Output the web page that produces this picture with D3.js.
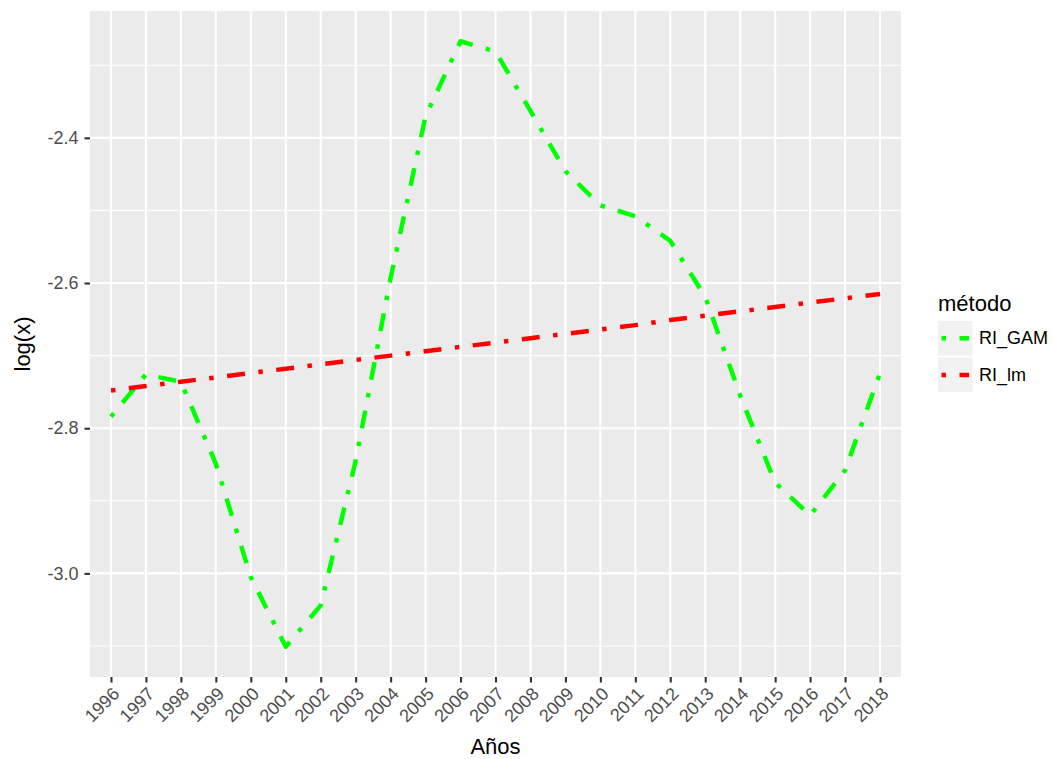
<!DOCTYPE html>
<html>
<head>
<meta charset="utf-8">
<script src="https://cdnjs.cloudflare.com/ajax/libs/d3/7.8.5/d3.min.js"></script>
<style>
  body { margin: 0; background: #fff; }
  text { font-family: "Liberation Sans", Arial, sans-serif; }
</style>
</head>
<body>
<div id="chart"></div>
<script>
// data
var years = ["1996","1997","1998","1999","2000","2001","2002","2003","2004","2005","2006","2007",
             "2008","2009","2010","2011","2012","2013","2014","2015","2016","2017","2018"];
var ri_gam = [-2.784, -2.726, -2.736, -2.849, -3.005, -3.101, -3.044, -2.845, -2.593, -2.370, -2.267, -2.281,
              -2.363, -2.446, -2.493, -2.508, -2.542, -2.619, -2.755, -2.875, -2.920, -2.858, -2.724];
var ri_lm = [-2.748, -2.742, -2.736, -2.730, -2.724, -2.718, -2.712, -2.706, -2.700, -2.694, -2.688, -2.682,
             -2.676, -2.670, -2.664, -2.658, -2.651, -2.645, -2.639, -2.633, -2.627, -2.621, -2.615];
var yTicks = [-3.0, -2.8, -2.6, -2.4];
var yMinor = [-3.1, -2.9, -2.7, -2.5, -2.3];
var seriesNames = ["RI_GAM", "RI_lm"];
var seriesColors = ["#00ff00", "#ff0000"];

var W = 1054, H = 759;
var margin = {top: 11, right: 153, bottom: 82, left: 90},
    width = W - margin.left - margin.right,
    height = H - margin.top - margin.bottom;

var svg = d3.select("#chart").append("svg")
    .attr("width", W)
    .attr("height", H);

var g = svg.append("g")
    .attr("transform", "translate(" + margin.left + "," + margin.top + ")");

// discrete x like ggplot: 0.6 unit expansion each side
var xScale = d3.scalePoint()
    .domain(years)
    .range([0, width])
    .padding(0.6);

var allVals = ri_gam.concat(ri_lm);
var lo = d3.min(allVals), hi = d3.max(allVals), pad = (hi - lo) * 0.05;
var yScale = d3.scaleLinear()
    .domain([lo - pad, hi + pad])
    .range([height, 0]);

g.append("rect")
    .attr("width", width)
    .attr("height", height)
    .attr("fill", "#ebebeb");

// grid
g.selectAll(".minor").data(yMinor).enter().append("line")
    .attr("x1", 0).attr("x2", width)
    .attr("y1", d => yScale(d)).attr("y2", d => yScale(d))
    .attr("stroke", "#fff").attr("stroke-width", 1.1);
g.selectAll(".majorY").data(yTicks).enter().append("line")
    .attr("x1", 0).attr("x2", width)
    .attr("y1", d => yScale(d)).attr("y2", d => yScale(d))
    .attr("stroke", "#fff").attr("stroke-width", 2.1);
g.selectAll(".majorX").data(years).enter().append("line")
    .attr("y1", 0).attr("y2", height)
    .attr("x1", d => xScale(d)).attr("x2", d => xScale(d))
    .attr("stroke", "#fff").attr("stroke-width", 2.1);

// axes
var yAxis = g.append("g")
    .call(d3.axisLeft(yScale).tickValues(yTicks).tickFormat(d3.format(".1f")).tickSize(5.5).tickPadding(6));
var xAxis = g.append("g")
    .attr("transform", "translate(0," + height + ")")
    .call(d3.axisBottom(xScale).tickSize(5.5).tickPadding(4));

[yAxis, xAxis].forEach(function(a){
    a.select(".domain").remove();
    a.selectAll(".tick line").attr("stroke", "#333333").attr("stroke-width", 2.1);
    a.selectAll(".tick text")
        .attr("fill", "#4d4d4d")
        .style("font-size", "18px")
        .style("font-family", "Liberation Sans, Arial, sans-serif");
});
yAxis.selectAll(".tick text").text(d => d3.format(".1f")(d).replace("\u2212", "-"));
xAxis.selectAll(".tick text")
    .attr("text-anchor", "end")
    .attr("dy", null)
    .attr("y", 0)
    .attr("transform", "translate(9,18) rotate(-45)");

// lines
var lwd = 4.5;
var dash = [1, 3, 4, 3].map(d => d * lwd).join(",");
var line = d3.line()
    .x((d, i) => xScale(years[i]))
    .y(d => yScale(d));

[ri_gam, ri_lm].forEach(function(s, k){
    g.append("path")
        .datum(s)
        .attr("d", line)
        .attr("fill", "none")
        .attr("stroke", seriesColors[k])
        .attr("stroke-width", lwd)
        .attr("stroke-dasharray", dash)
        .attr("stroke-linecap", "butt")
        .attr("stroke-linejoin", "round");
});

// axis titles
svg.append("text")
    .attr("x", margin.left + width / 2)
    .attr("y", 754)
    .attr("text-anchor", "middle")
    .style("font-size", "22px")
    .text("Años");
svg.append("text")
    .attr("transform", "translate(30," + (margin.top + height / 2) + ") rotate(-90)")
    .attr("text-anchor", "middle")
    .style("font-size", "22px")
    .text("log(x)");

// legend
var legend = svg.append("g").attr("transform", "translate(938,321)");
legend.append("text")
    .attr("x", 0).attr("y", -10)
    .style("font-size", "22px")
    .text("método");
var keySize = 34.6;
seriesNames.forEach(function(name, k){
    var ky = k * (keySize + 2);
    legend.append("rect")
        .attr("x", 0).attr("y", ky)
        .attr("width", keySize).attr("height", keySize)
        .attr("fill", "#f2f2f2");
    legend.append("line")
        .attr("x1", 3.5).attr("x2", keySize - 3.5)
        .attr("y1", ky + keySize / 2).attr("y2", ky + keySize / 2)
        .attr("stroke", seriesColors[k])
        .attr("stroke-width", lwd)
        .attr("stroke-dasharray", dash);
    legend.append("text")
        .attr("x", keySize + 6.5)
        .attr("y", ky + keySize / 2 + 6)
        .style("font-size", "18px")
        .attr("fill", "#000")
        .text(name);
});
</script>
</body>
</html>
